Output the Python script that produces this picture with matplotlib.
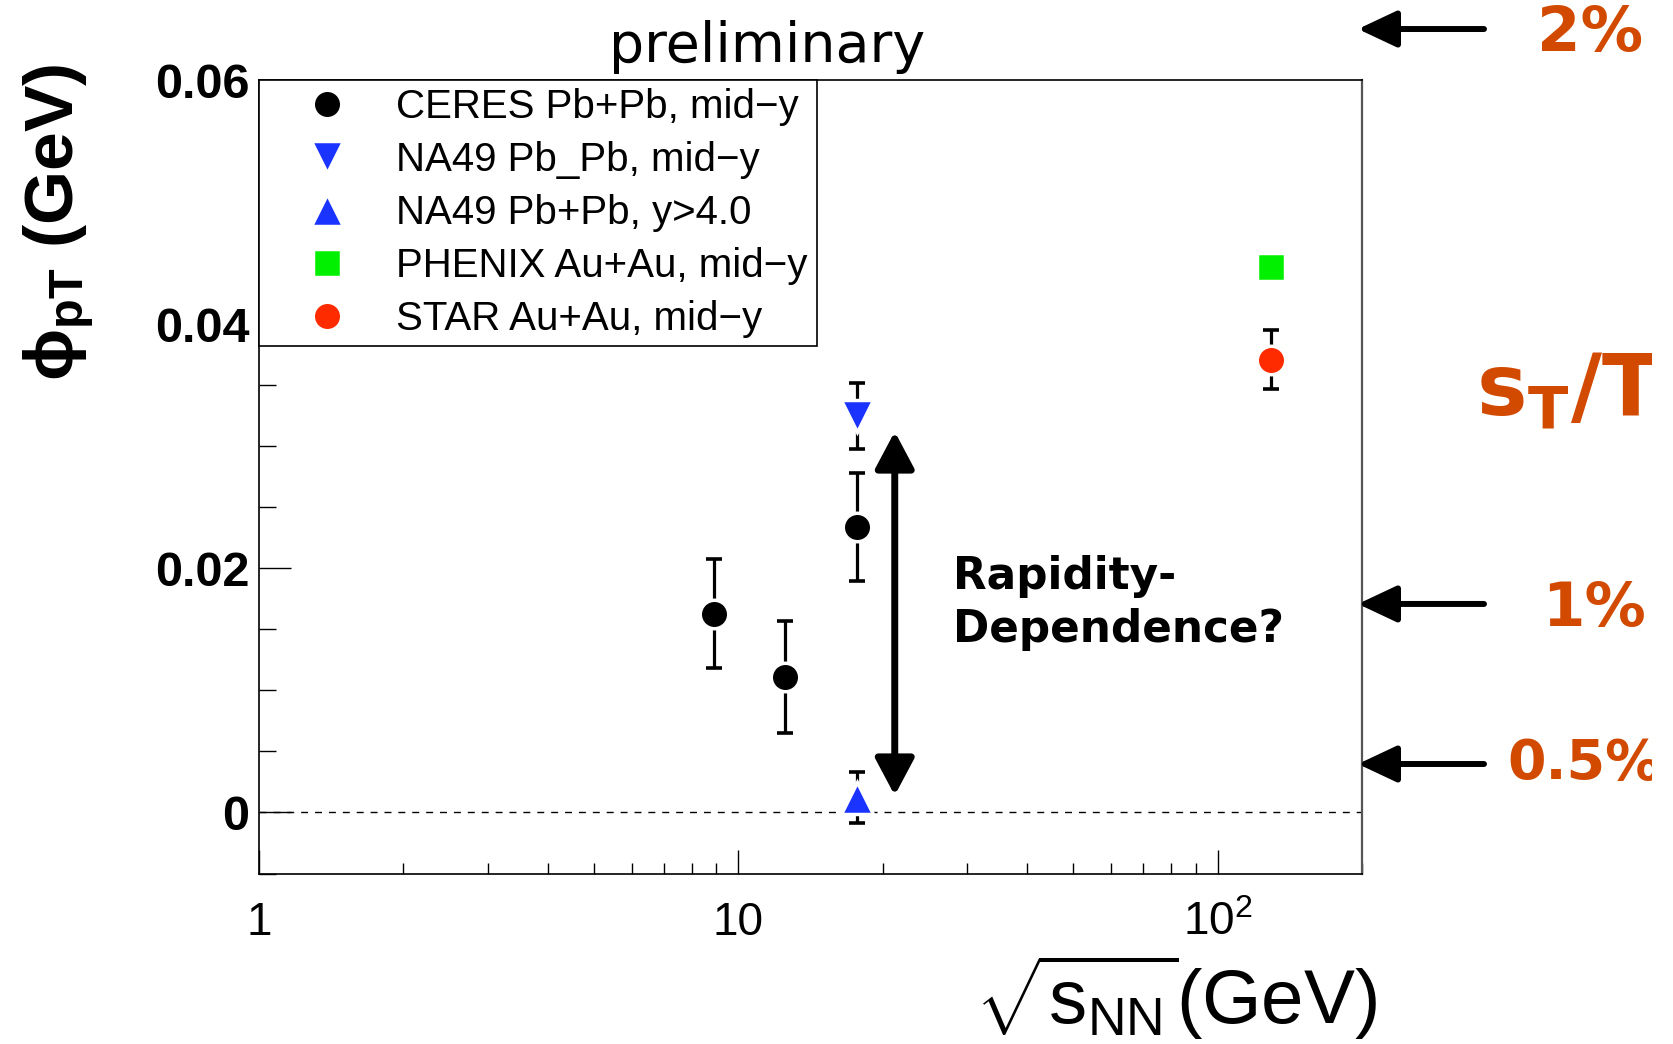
#!/usr/bin/env python3

import matplotlib
matplotlib.use("Agg")
import matplotlib.pyplot as plt
import matplotlib.ticker as mticker
from matplotlib.patches import Rectangle

# sqrt(s_NN) in GeV, phi_pT in GeV
ceres_x = [8.9, 12.5, 17.7]
ceres_y = [0.0163, 0.0111, 0.0234]
ceres_err = [0.0045, 0.0046, 0.0044]

na49_mid_x = [17.7]
na49_mid_y = [0.0325]
na49_mid_err = [0.0027]

na49_fwd_x = [17.7]
na49_fwd_y = [0.0012]
na49_fwd_err = [0.0021]

phenix_x = [129.0]
phenix_y = [0.0447]

star_x = [129.0]
star_y = [0.0371]
star_err = [0.0024]

series_labels = [
    "CERES Pb+Pb, mid\u2212y",
    "NA49 Pb_Pb, mid\u2212y",
    "NA49 Pb+Pb, y>4.0",
    "PHENIX Au+Au, mid\u2212y",
    "STAR Au+Au, mid\u2212y",
]

x_ticks = [1, 10, 100]
x_tick_labels = ["1", "10", r"$10^{2}$"]
y_ticks = [0.0, 0.02, 0.04, 0.06]
y_tick_labels = ["0", "0.02", "0.04", "0.06"]

# fluctuation scale markers on the right
scale_labels = ["2%", "1%", "0.5%"]

ORANGE = "#D24A00"
BLUE = "#1A33FF"
GREEN = "#00F000"
RED = "#FF2B00"


def set_style():
    plt.rcParams.update(
        {
            "font.family": ["Liberation Sans", "DejaVu Sans"],
            "mathtext.fontset": "custom",
            "mathtext.rm": "Liberation Sans",
            "mathtext.it": "Liberation Sans",
            "mathtext.bf": "Liberation Sans:bold",
            "axes.unicode_minus": False,
        }
    )


def draw_points(ax, x, y, err, marker, color, label, size=20.5):
    if err is not None:
        ax.errorbar(
            x, y, yerr=err, fmt="none", ecolor="black",
            elinewidth=2.3, capsize=5.5, capthick=2.6, zorder=2,
        )
    ax.plot(
        x, y, linestyle="none", marker=marker, markersize=size,
        markerfacecolor=color, markeredgecolor="white",
        markeredgewidth=2.5, label=label, zorder=3,
    )


def main():
    set_style()

    fig = plt.figure(figsize=(16.74, 10.44), dpi=100)
    ax = fig.add_axes([0.1547, 0.1633, 0.6589, 0.7600])

    ax.axhline(0.0, color="black", linewidth=1.0, dashes=(5, 5), zorder=1)

    draw_points(ax, ceres_x, ceres_y, ceres_err, "o", "black", series_labels[0])
    draw_points(ax, na49_mid_x, na49_mid_y, na49_mid_err, "v", BLUE,
                series_labels[1], size=23)
    draw_points(ax, na49_fwd_x, na49_fwd_y, na49_fwd_err, "^", BLUE,
                series_labels[2], size=23)
    draw_points(ax, phenix_x, phenix_y, None, "s", GREEN, series_labels[3])
    draw_points(ax, star_x, star_y, star_err, "o", RED, series_labels[4])

    ax.set_xscale("log")
    ax.set_xlim(1, 200)
    ax.set_ylim(-0.005, 0.06)

    ax.xaxis.set_major_locator(mticker.FixedLocator(x_ticks))
    ax.xaxis.set_major_formatter(mticker.FixedFormatter(x_tick_labels))
    ax.xaxis.set_minor_locator(mticker.LogLocator(base=10, subs=range(2, 10)))
    ax.xaxis.set_minor_formatter(mticker.NullFormatter())

    ax.yaxis.set_major_locator(mticker.FixedLocator(y_ticks))
    ax.yaxis.set_major_formatter(mticker.FixedFormatter(y_tick_labels))
    ax.yaxis.set_minor_locator(mticker.MultipleLocator(0.005))

    ax.tick_params(axis="x", which="major", direction="in", length=17,
                   width=1.0, labelsize=33, pad=20, top=False)
    ax.tick_params(axis="x", which="minor", direction="in", length=8,
                   width=1.0, top=False)
    ax.tick_params(axis="y", which="major", direction="in", length=23,
                   width=1.0, labelsize=35, pad=7, right=False)
    ax.tick_params(axis="y", which="minor", direction="in", length=12,
                   width=1.0, right=False)
    for lab in ax.get_yticklabels():
        lab.set_fontweight("bold")

    for side in ["left", "bottom", "top"]:
        ax.spines[side].set_linewidth(1.2)
    ax.spines["right"].set_linewidth(1.6)
    ax.spines["right"].set_color("#555555")

    ax.set_xlabel(r"$\sqrt{\mathrm{s}_{\mathrm{NN}}}$(GeV)", fontsize=55, loc="right")
    ax.xaxis.set_label_coords(1.0136, -0.10)
    ax.set_ylabel(r"$\mathbf{\phi_{pT}}$ (GeV)", fontsize=50,
                  fontweight="bold", loc="top")
    ax.yaxis.set_label_coords(-0.148, 1.02)

    leg = ax.legend(
        loc="upper left",
        bbox_to_anchor=(0.0, 0.0, 0.5059, 1.0),
        mode="expand",
        borderaxespad=0.0,
        fontsize=29,
        numpoints=1,
        handlelength=3.0,
        handletextpad=0.2,
        borderpad=0.2,
        labelspacing=0.37,
        fancybox=False,
        framealpha=1.0,
        edgecolor="black",
    )
    leg.get_frame().set_linewidth(1.2)

    # double-headed arrow between the two NA49 rapidity windows
    ax.annotate(
        "", xy=(21.2, 0.0312), xytext=(21.2, 0.0014),
        arrowprops=dict(
            arrowstyle="<|-|>,head_length=1.6,head_width=0.85",
            mutation_scale=14, lw=5, color="black",
            shrinkA=0, shrinkB=0,
        ),
    )
    fig.text(0.5693, 0.4684, "Rapidity-\nDependence?", ha="left", va="top",
             fontsize=31.5, fontweight="bold", family="DejaVu Sans",
             linespacing=1.3)

    fig.text(0.458, 0.9406, "preliminary", ha="center", va="baseline",
             fontsize=40, family="DejaVu Sans")

    # scale arrows and labels on the right
    arrow_y = [0.9722, 0.4215, 0.2682]
    label_xy = [(0.9183, 0.951), (0.9215, 0.400), (0.9004, 0.2538)]
    label_size = [45, 44, 40]
    for yy, (lx, ly), size, text in zip(arrow_y, label_xy, label_size, scale_labels):
        fig.add_artist(plt.Annotation(
            "", xy=(0.8112, yy), xytext=(0.8865, yy),
            xycoords="figure fraction", textcoords="figure fraction",
            arrowprops=dict(
                arrowstyle="-|>,head_length=1.7,head_width=0.8",
                mutation_scale=14, lw=4.3, color="black",
                shrinkA=0, shrinkB=0,
            ),
        ))
        fig.text(lx, ly, text, ha="left", va="baseline", fontsize=size,
                 fontweight="bold", family="DejaVu Sans", color=ORANGE)

    fig.text(0.8817, 0.6034, r"$\mathbf{s_{T}/T}$", ha="left", va="baseline",
             fontsize=61, color=ORANGE, math_fontfamily="dejavusans")

    # right margin is blank
    fig.add_artist(Rectangle((0.9869, 0.0), 0.0131, 1.0, transform=fig.transFigure,
                             facecolor="white", edgecolor="none", zorder=10))

    fig.savefig("out.png", dpi=100)
    plt.close(fig)


if __name__ == "__main__":
    main()
